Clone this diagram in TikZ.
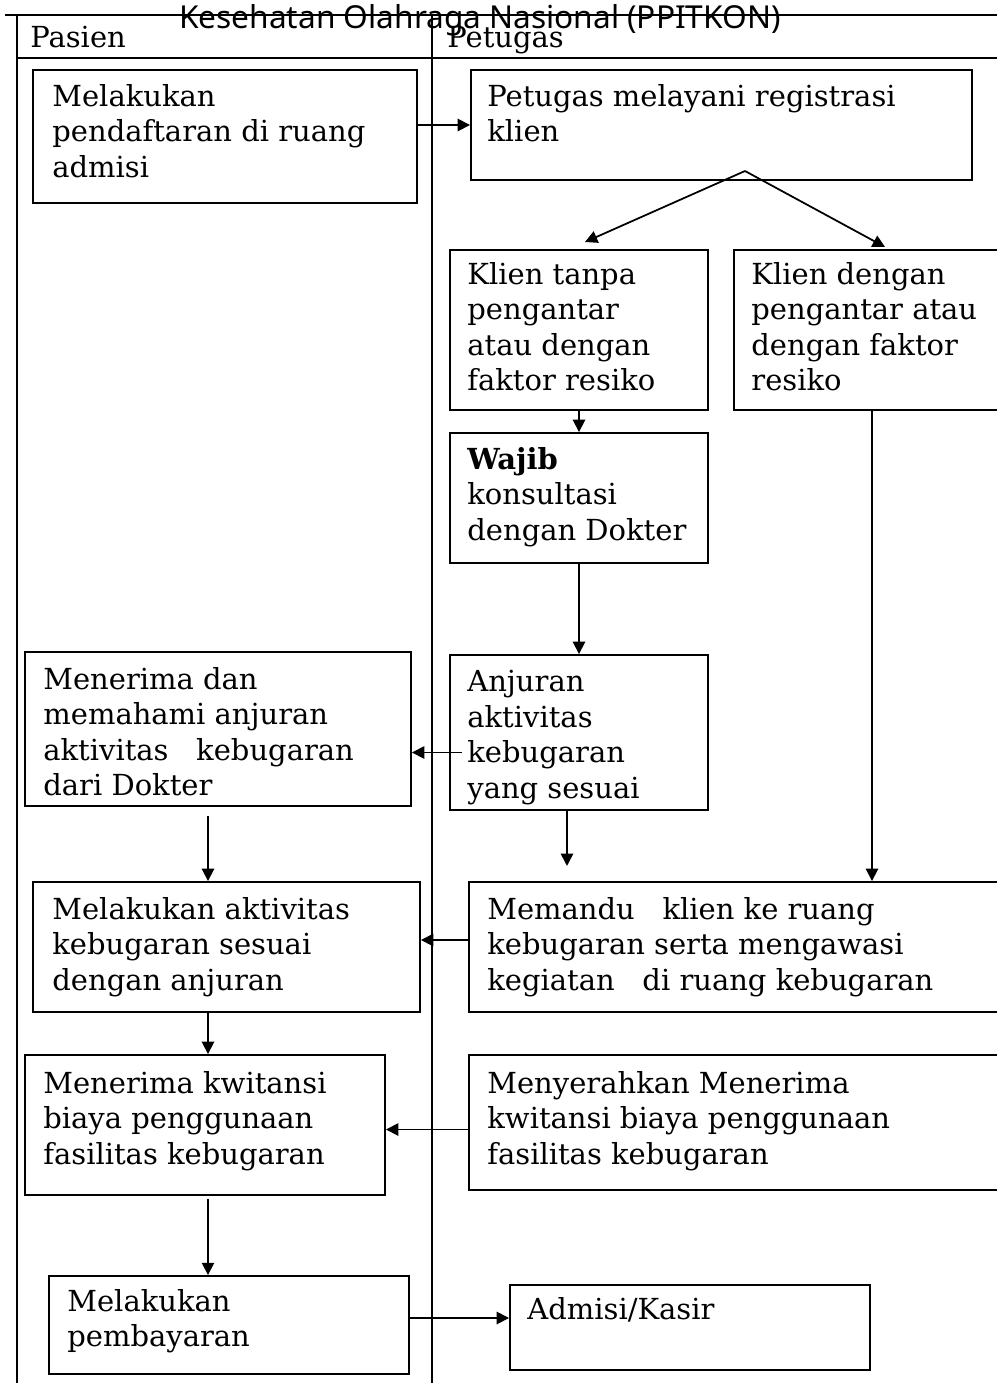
\documentclass[tikz,border=0pt]{standalone}
\usepackage{fontspec}
\setmainfont{DejaVu Serif}
\newfontfamily\titlefont{Noto Sans}
\usetikzlibrary{arrows.meta,fit}

\begin{document}
\begin{tikzpicture}[x=0.02cm,y=-0.02cm,
	box/.style={draw,line width=1.1pt,inner sep=0pt},
	txt/.style={anchor=north west,align=left,inner sep=0pt,font=\fontsize{16.5}{20.2}\selectfont},
	lane/.style={line width=1.1pt},
	arr/.style={line width=1pt,-{Triangle[length=7pt,width=7pt]}}]
\clip (0,0) rectangle (997,1383);
\draw[line width=1.7pt] (5,15) -- (1005,15);
\draw[lane] (17,15) -- (17,1390) (432,15) -- (432,1390) (17,58) -- (1005,58);
\node[txt,anchor=base west] (pasien) at (30,47) {Pasien};
\node[txt,anchor=base west] (petugas) at (447,47) {Petugas};
\node[anchor=base,inner sep=0pt,font=\titlefont\fontsize{18}{20}\selectfont] (judul) at (480,28) {Kesehatan Olahraga Nasional (PPITKON)};

\node[box,fit={(33,70) (417,203)}] (a1) {};
\node[box,fit={(471,70) (972,180)}] (b1) {};
\node[box,fit={(450,250) (708,410)}] (b2) {};
\node[box,fit={(734,250) (1010,410)}] (b3) {};
\node[box,fit={(450,433) (708,563)}] (b4) {};
\node[box,fit={(450,655) (708,810)}] (b5) {};
\node[box,fit={(25,652) (411,806)}] (a2) {};
\node[box,fit={(33,882) (420,1012)}] (a3) {};
\node[box,fit={(469,882) (1010,1012)}] (b6) {};
\node[box,fit={(25,1055) (385,1195)}] (a4) {};
\node[box,fit={(469,1055) (1010,1190)}] (b7) {};
\node[box,fit={(49,1276) (409,1374)}] (a5) {};
\node[box,fit={(510,1285) (870,1370)}] (b8) {};

\node[txt] (a1t) at ([shift={(20,15)}]a1.north west) {Melakukan\\pendaftaran di ruang\\admisi};
\node[txt] (b1t) at ([shift={(17,15)}]b1.north west) {Petugas melayani registrasi\\klien};
\node[txt] (b2t) at ([shift={(18,13)}]b2.north west) {Klien tanpa\\pengantar\\atau dengan\\faktor resiko};
\node[txt] (b3t) at ([shift={(18,13)}]b3.north west) {Klien dengan\\pengantar atau\\dengan faktor\\resiko};
\node[txt] (b4t) at ([shift={(18,15)}]b4.north west) {\textbf{Wajib}\\konsultasi\\dengan Dokter};
\node[txt] (b5t) at ([shift={(18,16)}]b5.north west) {Anjuran\\aktivitas\\kebugaran\\yang sesuai};
\node[txt] (a2t) at ([shift={(19,16)}]a2.north west) {Menerima dan\\memahami anjuran\\aktivitas\ \ \ kebugaran\\dari Dokter};
\node[txt] (a3t) at ([shift={(20,16)}]a3.north west) {Melakukan aktivitas\\kebugaran sesuai\\dengan anjuran};
\node[txt] (b6t) at ([shift={(19,16)}]b6.north west) {Memandu\ \ \ klien ke ruang\\kebugaran serta mengawasi\\kegiatan\ \ \ di ruang kebugaran};
\node[txt] (a4t) at ([shift={(19,17)}]a4.north west) {Menerima kwitansi\\biaya penggunaan\\fasilitas kebugaran};
\node[txt] (b7t) at ([shift={(19,17)}]b7.north west) {Menyerahkan Menerima\\kwitansi biaya penggunaan\\fasilitas kebugaran};
\node[txt] (a5t) at ([shift={(19,14)}]a5.north west) {Melakukan\\pembayaran};
\node[txt] (b8t) at ([shift={(18,13)}]b8.north west) {Admisi/Kasir};

\coordinate (split) at (745,171);
\coordinate (kiri) at (585,242);
\coordinate (kanan) at (885,247);
\coordinate (pcol) at (208,0);
\coordinate (b5end) at ([shift={(-12,55)}]b5.south);

\draw[arr] (b1.west -| a1.east) -- (b1.west);
\draw[arr] (split) -- (kiri);
\draw[arr] (split) -- (kanan);
\draw[arr] (b2.south) -- (b4.north);
\draw[arr] (b4.south) -- (b5.north);
\draw[arr] ([shift={(13,20)}]b5.west) -- ([shift={(0,20)}]b5.west -| a2.east);
\draw[arr] ([shift={(-12,0)}]b5.south) -- (b5end);
\draw[arr] (b3.south) -- (b3.south |- b6.north);
\draw[arr] ([shift={(0,9)}]pcol |- a2.south) -- (pcol |- a3.north);
\draw[arr] ([shift={(0,-7)}]b6.west) -- ([shift={(0,-7)}]b6.west -| a3.east);
\draw[arr] (pcol |- a3.south) -- (pcol |- a4.north);
\draw[arr] ([shift={(0,7)}]b7.west) -- ([shift={(0,7)}]b7.west -| a4.east);
\draw[arr] ([shift={(0,3)}]pcol |- a4.south) -- (pcol |- a5.north);
\draw[arr] ([shift={(0,-7)}]a5.east) -- ([shift={(0,-7)}]a5.east -| b8.west);
\end{tikzpicture}
\end{document}
